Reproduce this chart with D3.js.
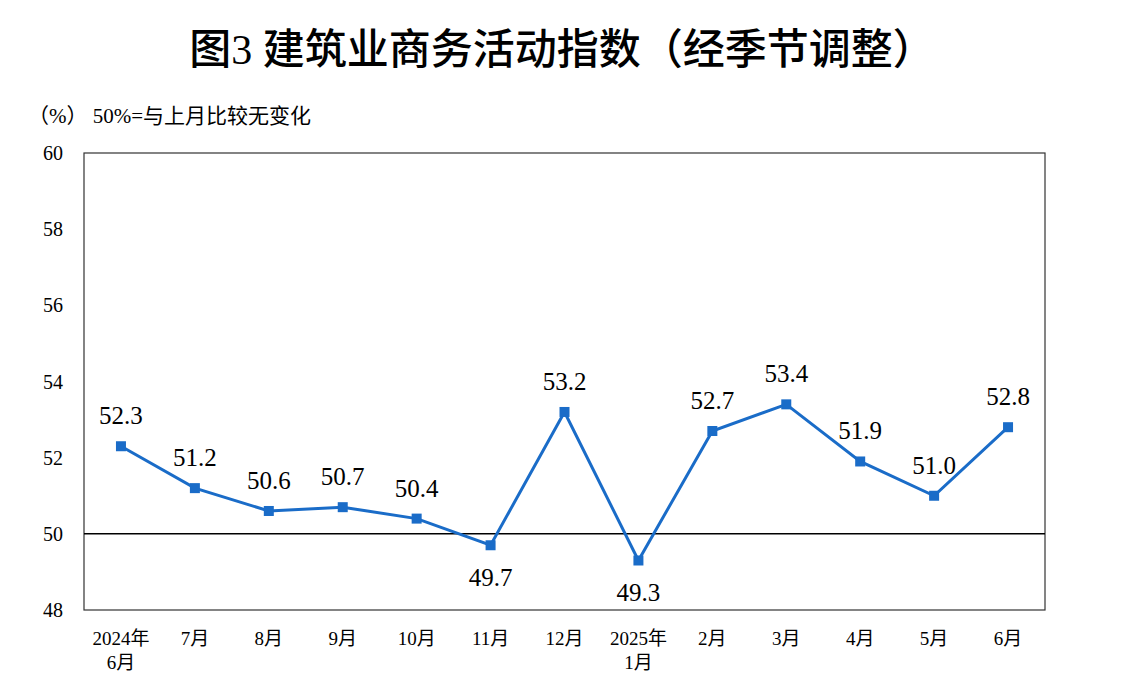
<!DOCTYPE html>
<html><head><meta charset="utf-8">
<script src="https://cdn.jsdelivr.net/npm/d3@7"></script>
<style>body{margin:0;background:#fff}</style>
</head><body>
<svg id="chart" width="1125" height="697"></svg>
<script>
const months = ['2024年\n6月','7月','8月','9月','10月','11月','12月','2025年\n1月','2月','3月','4月','5月','6月'];
const values = [52.3,51.2,50.6,50.7,50.4,49.7,53.2,49.3,52.7,53.4,51.9,51.0,52.8];
const yTicks = [48,50,52,54,56,58,60];

const svg = d3.select('#chart');
const m = {left: 84, right: 1045, top: 153, bottom: 610};
const serif = '"Liberation Serif","Noto Sans CJK SC",serif';
const blue = '#1a6cc8';

const x = d3.scaleBand().domain(months).range([m.left, m.right]);
const y = d3.scaleLinear().domain([48, 60]).range([m.bottom, m.top]);
const cx = d => x(d) + x.bandwidth() / 2;

svg.append('text').attr('x', 562).attr('y', 64).attr('text-anchor', 'middle')
    .style('font-family', '"Liberation Serif","Noto Sans CJK SC",sans-serif').style('font-weight', '500')
    .style('font-size', '42px').text('图3  建筑业商务活动指数（经季节调整）');
svg.append('text').attr('x', 28).attr('y', 123)
    .style('font-family', serif).style('font-size', '21px').text('（%）  50%=与上月比较无变化');

svg.append('rect').attr('x', m.left).attr('y', m.top)
    .attr('width', m.right - m.left).attr('height', m.bottom - m.top)
    .attr('fill', 'none').attr('stroke', '#333').attr('stroke-width', 1.2);

svg.append('line').attr('x1', m.left).attr('x2', m.right)
    .attr('y1', y(50)).attr('y2', y(50)).attr('stroke', '#000').attr('stroke-width', 1.5);

svg.selectAll('.yt').data(yTicks).enter().append('text')
    .attr('x', 63).attr('y', d => y(d) + 7).attr('text-anchor', 'end')
    .style('font-family', serif).style('font-size', '20px').text(d => d);

const xl = svg.selectAll('.xt').data(months).enter().append('text')
    .attr('text-anchor', 'middle').style('font-family', serif).style('font-size', '19px');
xl.each(function(d) {
    const parts = d.split('\n');
    parts.forEach((p, i) => d3.select(this).append('tspan')
        .attr('x', cx(d)).attr('y', 645 + i * 24).text(p));
});

const data = months.map((mo, i) => ({mo, v: values[i]}));
svg.append('path').datum(data)
    .attr('d', d3.line().x(d => cx(d.mo)).y(d => y(d.v)))
    .attr('fill', 'none').attr('stroke', blue).attr('stroke-width', 3);

svg.selectAll('.pt').data(data).enter().append('rect')
    .attr('x', d => cx(d.mo) - 5).attr('y', d => y(d.v) - 5)
    .attr('width', 10).attr('height', 10).attr('fill', blue);

svg.selectAll('.lb').data(data).enter().append('text')
    .attr('x', d => cx(d.mo))
    .attr('y', d => d.v < 50 ? y(d.v) + 41 : y(d.v) - 22)
    .attr('text-anchor', 'middle').style('font-family', serif).style('font-size', '25px')
    .text(d => d.v.toFixed(1));
</script>
</body></html>
